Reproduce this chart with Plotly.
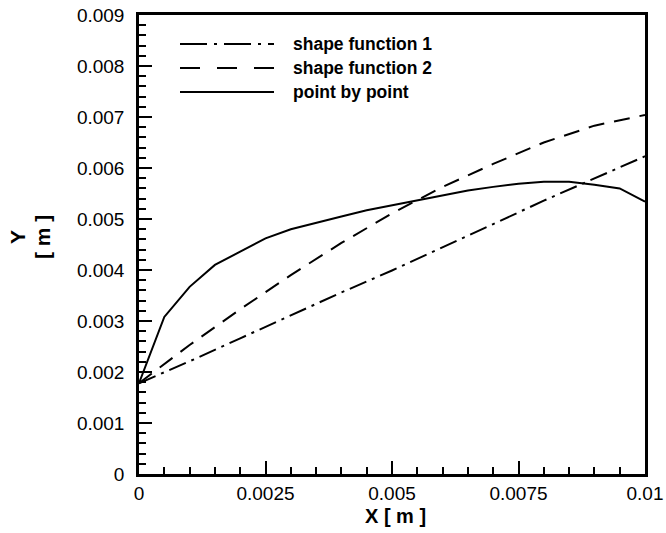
import plotly.graph_objects as go

# ---- data ----
x_pbp = [0, 0.0005, 0.001, 0.0015, 0.002, 0.0025, 0.003, 0.0035, 0.004, 0.0045, 0.005,
         0.0055, 0.006, 0.0065, 0.007, 0.0075, 0.008, 0.0085, 0.009, 0.0095, 0.01]
y_pbp = [0.00178, 0.00308, 0.00367, 0.00410, 0.00436, 0.00462, 0.00480, 0.00493, 0.00505, 0.00517, 0.00527,
         0.00537, 0.00547, 0.00556, 0.00563, 0.00569, 0.00573, 0.00573, 0.00567, 0.00560, 0.00534]

x_sf = [0, 0.001, 0.002, 0.003, 0.004, 0.005, 0.006, 0.007, 0.008, 0.009, 0.01]
y_sf1 = [0.00178, 0.00221, 0.00266, 0.00311, 0.00356, 0.00399, 0.00444, 0.00490, 0.00536, 0.00580, 0.00623]
y_sf2 = [0.00178, 0.00253, 0.00323, 0.00390, 0.00453, 0.00511, 0.00563, 0.00608, 0.00650, 0.00683, 0.00704]

series_names = ["shape function 1", "shape function 2", "point by point"]

x_tickvals = [0, 0.0025, 0.005, 0.0075, 0.01]
x_ticktext = ["0", "0.0025", "0.005", "0.0075", "0.01"]
y_tickvals = [0, 0.001, 0.002, 0.003, 0.004, 0.005, 0.006, 0.007, 0.008, 0.009]
y_ticktext = ["0", "0.001", "0.002", "0.003", "0.004", "0.005", "0.006", "0.007", "0.008", "0.009"]

# ---- styles ----
W, H = 666, 533
L, R, T, B = 139, 21, 15, 59
FONT = "Liberation Sans, Arial, sans-serif"
plot_dashes = ["18px,6px,3px,6px", "16px,10px", "solid"]
legend_dashes = ["27px,7px,3px,7px", "20px,17px", "solid"]

fig = go.Figure()
fig.add_trace(go.Scatter(x=x_sf, y=y_sf1, mode="lines", name=series_names[0],
                         line=dict(color="black", width=2, dash=plot_dashes[0])))
fig.add_trace(go.Scatter(x=x_sf, y=y_sf2, mode="lines", name=series_names[1],
                         line=dict(color="black", width=2, dash=plot_dashes[1])))
fig.add_trace(go.Scatter(x=x_pbp, y=y_pbp, mode="lines", name=series_names[2],
                         line=dict(color="black", width=2, dash=plot_dashes[2])))

pw = W - L - R
ph = H - T - B

def px2paper(px, py):
    return (px - L) / pw, (H - B - py) / ph

# custom legend (long line samples)
legend_rows_py = [44, 68, 92]
shapes = []
annotations = []
for name, dash, py in zip(series_names, legend_dashes, legend_rows_py):
    x0, yy = px2paper(180, py)
    x1, _ = px2paper(274, py)
    shapes.append(dict(type="line", xref="paper", yref="paper", x0=x0, x1=x1, y0=yy, y1=yy,
                       line=dict(color="black", width=2, dash=dash)))
    tx, _ = px2paper(291, py)
    annotations.append(dict(text=name, xref="paper", yref="paper", x=tx, y=yy,
                            xanchor="left", yanchor="middle", showarrow=False,
                            font=dict(family=FONT, size=17.5, color="black", weight="bold")))

# Y axis title as two rotated lines
for txt, px in [("Y", 18), ("[ m ]", 43)]:
    ax, _ = px2paper(px, 0)
    _, ay = px2paper(0, 237)
    annotations.append(dict(text=txt, xref="paper", yref="paper", x=ax, y=ay,
                            xanchor="center", yanchor="middle", textangle=-90, showarrow=False,
                            font=dict(family=FONT, size=21, color="black", weight="bold")))

# X axis title
xt, yt = px2paper(395, 503)
annotations.append(dict(text="X [ m ]", xref="paper", yref="paper", x=xt, y=yt,
                        xanchor="center", yanchor="top", showarrow=False,
                        font=dict(family=FONT, size=20, color="black", weight="bold")))

axis_common = dict(
    showgrid=False, zeroline=False, showline=True, linecolor="black", linewidth=2.5,
    mirror=True, ticks="inside", ticklen=13, tickwidth=2, tickcolor="black",
    tickfont=dict(family=FONT, size=19, color="black"),
)

fig.update_layout(
    width=W, height=H,
    margin=dict(l=L, r=R, t=T, b=B, autoexpand=False),
    paper_bgcolor="white", plot_bgcolor="white",
    showlegend=False,
    shapes=shapes, annotations=annotations,
    xaxis=dict(range=[0, 0.01], tickvals=x_tickvals, ticktext=x_ticktext,
               minor=dict(ticks="inside", ticklen=7, tickwidth=1.5, tickcolor="black", dtick=0.0005),
               ticklabelstandoff=0, **axis_common),
    yaxis=dict(range=[0, 0.009], tickvals=y_tickvals, ticktext=y_ticktext,
               minor=dict(ticks="inside", ticklen=7, tickwidth=1.5, tickcolor="black", dtick=0.0002),
               ticklabelstandoff=8, **axis_common),
)

fig.write_html("out.html", config={"displayModeBar": False},
               post_script="document.body.style.margin='0';document.body.style.overflow='hidden';")
